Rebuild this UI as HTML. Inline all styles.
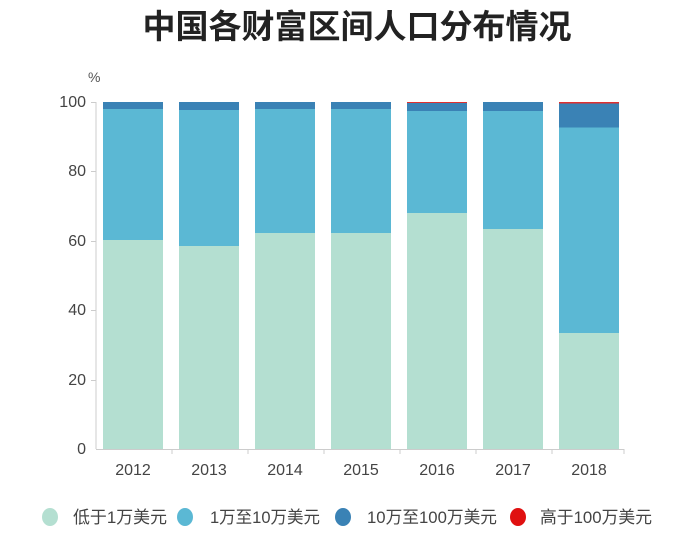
<!DOCTYPE html><html><head><meta charset="utf-8"><style>body{margin:0;background:#fff}svg{display:block}text{font-family:"Liberation Sans","Noto Sans CJK SC",sans-serif}</style></head><body>
<svg width="700" height="538" xmlns="http://www.w3.org/2000/svg">
<text x="357" y="38" text-anchor="middle" font-size="33" font-weight="bold" fill="#222">中国各财富区间人口分布情况</text>
<text x="88" y="82" font-size="14" fill="#555">%</text>
<g font-size="16" fill="#444" text-anchor="end">
<text x="86" y="107">100</text><text x="86" y="176">80</text><text x="86" y="246">60</text><text x="86" y="315">40</text><text x="86" y="385">20</text><text x="86" y="454">0</text></g>
<g stroke="#ccc" stroke-width="1"><line x1="96" y1="102" x2="96" y2="449"/><line x1="96" y1="449.5" x2="624" y2="449.5"/>
<line x1="91" y1="102.5" x2="96" y2="102.5"/><line x1="91" y1="171.5" x2="96" y2="171.5"/><line x1="91" y1="241.5" x2="96" y2="241.5"/><line x1="91" y1="310.5" x2="96" y2="310.5"/><line x1="91" y1="380.5" x2="96" y2="380.5"/>
<line x1="172" y1="449" x2="172" y2="454"/><line x1="248" y1="449" x2="248" y2="454"/><line x1="324" y1="449" x2="324" y2="454"/><line x1="400" y1="449" x2="400" y2="454"/><line x1="476" y1="449" x2="476" y2="454"/><line x1="552" y1="449" x2="552" y2="454"/><line x1="624" y1="449" x2="624" y2="454"/></g>
<g>
<rect x="103" y="102" width="60" height="7" fill="#3a82b5"/><rect x="103" y="109" width="60" height="131" fill="#5bb8d4"/><rect x="103" y="240" width="60" height="209" fill="#b4dfd1"/>
<rect x="179" y="102" width="60" height="8" fill="#3a82b5"/><rect x="179" y="110" width="60" height="136" fill="#5bb8d4"/><rect x="179" y="246" width="60" height="203" fill="#b4dfd1"/>
<rect x="255" y="102" width="60" height="7" fill="#3a82b5"/><rect x="255" y="109" width="60" height="124" fill="#5bb8d4"/><rect x="255" y="233" width="60" height="216" fill="#b4dfd1"/>
<rect x="331" y="102" width="60" height="7" fill="#3a82b5"/><rect x="331" y="109" width="60" height="124" fill="#5bb8d4"/><rect x="331" y="233" width="60" height="216" fill="#b4dfd1"/>
<rect x="407" y="102" width="60" height="1" fill="#e03030"/><rect x="407" y="103" width="60" height="8" fill="#3a82b5"/><rect x="407" y="111" width="60" height="102" fill="#5bb8d4"/><rect x="407" y="213" width="60" height="236" fill="#b4dfd1"/>
<rect x="483" y="102" width="60" height="9" fill="#3a82b5"/><rect x="483" y="111" width="60" height="118" fill="#5bb8d4"/><rect x="483" y="229" width="60" height="220" fill="#b4dfd1"/>
<rect x="559" y="102" width="60" height="1.5" fill="#e03030"/><rect x="559" y="103.5" width="60" height="24" fill="#3a82b5"/><rect x="559" y="127.5" width="60" height="205.5" fill="#5bb8d4"/><rect x="559" y="333" width="60" height="116" fill="#b4dfd1"/>
</g>
<g font-size="16" fill="#444" text-anchor="middle">
<text x="133" y="475">2012</text><text x="209" y="475">2013</text><text x="285" y="475">2014</text><text x="361" y="475">2015</text><text x="437" y="475">2016</text><text x="513" y="475">2017</text><text x="589" y="475">2018</text></g>
<g font-size="17" fill="#444">
<ellipse cx="50" cy="517" rx="8" ry="9" fill="#b4dfd1"/><text x="73" y="523" textLength="94" lengthAdjust="spacingAndGlyphs">低于1万美元</text>
<ellipse cx="185" cy="517" rx="8" ry="9" fill="#5bb8d4"/><text x="210" y="523" textLength="110" lengthAdjust="spacingAndGlyphs">1万至10万美元</text>
<ellipse cx="343" cy="517" rx="8" ry="9" fill="#3a82b5"/><text x="367" y="523" textLength="130" lengthAdjust="spacingAndGlyphs">10万至100万美元</text>
<ellipse cx="518" cy="517" rx="8" ry="9" fill="#e01010"/><text x="540" y="523" textLength="112" lengthAdjust="spacingAndGlyphs">高于100万美元</text></g>
</svg></body></html>
